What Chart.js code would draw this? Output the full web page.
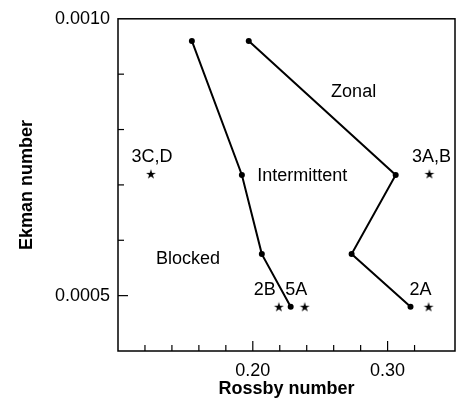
<!DOCTYPE html>
<html>
<head>
<meta charset="utf-8">
<script src="https://cdn.jsdelivr.net/npm/chart.js@4.4.1/dist/chart.umd.min.js"></script>
<style>
  html, body { margin: 0; padding: 0; background: #fff; }
  #wrap { width: 464px; height: 400px; }
</style>
</head>
<body>
<div id="wrap"><canvas id="myChart" width="464" height="400"></canvas></div>
<script>
// transition curves (Rossby, Ekman)
const leftCurveX = [0.1548, 0.1919, 0.2067, 0.2281];
const leftCurveY = [0.00096, 0.000718, 0.000575, 0.00048];
const rightCurveX = [0.197, 0.306, 0.2733, 0.317];
const rightCurveY = [0.00096, 0.000718, 0.000575, 0.00048];

// experiment runs shown as stars
const starX = [0.1244, 0.331, 0.2193, 0.2385, 0.3304];
const starY = [0.00072, 0.00072, 0.00048, 0.00048, 0.00048];

// text labels placed in data units
const labelText = ["3C,D", "3A,B", "2B", "5A", "2A", "Zonal", "Intermittent", "Blocked"];
const labelX = [0.1252, 0.3326, 0.2089, 0.2322, 0.3244, 0.2748, 0.2367, 0.1519];
const labelY = [0.00075, 0.00075, 0.00051, 0.00051, 0.00051, 0.000868, 0.000716, 0.000566];

const xLabeled = [0.2, 0.3];
const yLabeled = [0.0005, 0.001];

const FONT = "'Liberation Sans', Arial, Helvetica, sans-serif";

function toPoints(xs, ys) {
  return xs.map((x, i) => ({ x: x, y: ys[i] }));
}

function isLabeled(v, list) {
  return list.some((l) => Math.abs(v - l) < 1e-9);
}

// small filled five-point star used as point style
function makeStar() {
  const c = document.createElement("canvas");
  c.width = 12;
  c.height = 12;
  const g = c.getContext("2d");
  g.fillStyle = "#000";
  g.beginPath();
  for (let i = 0; i < 10; i++) {
    const r = i % 2 === 0 ? 5.2 : 1.9;
    const a = -Math.PI / 2 + (i * Math.PI) / 5;
    const px = 6 + r * Math.cos(a);
    const py = 6.5 + r * Math.sin(a);
    if (i === 0) g.moveTo(px, py);
    else g.lineTo(px, py);
  }
  g.closePath();
  g.fill();
  return c;
}

// frame, inward tick marks and text annotations
const decorPlugin = {
  id: "decor",
  afterDraw(chart) {
    const ctx = chart.ctx;
    const area = chart.chartArea;
    const xs = chart.scales.x;
    const ys = chart.scales.y;
    ctx.save();
    ctx.strokeStyle = "#000";
    ctx.lineWidth = 1.5;
    ctx.strokeRect(area.left, area.top, area.right - area.left, area.bottom - area.top);

    ctx.lineWidth = 1.2;
    xs.ticks.forEach((t) => {
      if (t.value <= xs.min + 1e-9 || t.value >= xs.max - 1e-9) return;
      const px = xs.getPixelForValue(t.value);
      const len = isLabeled(t.value, xLabeled) ? 10 : 6;
      ctx.beginPath();
      ctx.moveTo(px, area.bottom);
      ctx.lineTo(px, area.bottom - len);
      ctx.stroke();
    });
    ys.ticks.forEach((t) => {
      if (t.value <= ys.min + 1e-9 || t.value >= ys.max - 1e-9) return;
      const py = ys.getPixelForValue(t.value);
      const len = isLabeled(t.value, yLabeled) ? 10 : 6;
      ctx.beginPath();
      ctx.moveTo(area.left, py);
      ctx.lineTo(area.left + len, py);
      ctx.stroke();
    });

    ctx.fillStyle = "#000";
    ctx.font = "18px " + FONT;
    ctx.textAlign = "center";
    ctx.textBaseline = "middle";
    labelText.forEach((txt, i) => {
      ctx.fillText(txt, xs.getPixelForValue(labelX[i]), ys.getPixelForValue(labelY[i]));
    });
    ctx.restore();
  },
};

const starImg = makeStar();

new Chart(document.getElementById("myChart"), {
  type: "scatter",
  data: {
    datasets: [
      {
        data: toPoints(leftCurveX, leftCurveY),
        showLine: true,
        borderColor: "#000",
        backgroundColor: "#000",
        borderWidth: 2,
        pointRadius: 3,
        pointBorderWidth: 0,
      },
      {
        data: toPoints(rightCurveX, rightCurveY),
        showLine: true,
        borderColor: "#000",
        backgroundColor: "#000",
        borderWidth: 2,
        pointRadius: 3,
        pointBorderWidth: 0,
      },
      {
        data: toPoints(starX, starY),
        showLine: false,
        pointStyle: starImg,
        pointRadius: 6,
      },
    ],
  },
  options: {
    responsive: false,
    animation: false,
    layout: { padding: { top: 15, right: 7, left: 0, bottom: 0 } },
    plugins: { legend: { display: false }, tooltip: { enabled: false } },
    scales: {
      x: {
        type: "linear",
        min: 0.1,
        max: 0.35,
        afterFit(scale) { scale.height = 49; },
        grid: { display: false, drawTicks: false },
        border: { display: false },
        ticks: {
          stepSize: 0.02,
          autoSkip: false,
          maxRotation: 0,
          padding: 9,
          color: "#000",
          font: { family: FONT, size: 18 },
          callback: (v) => (isLabeled(v, xLabeled) ? v.toFixed(2) : ""),
        },
        title: {
          display: true,
          text: "Rossby number",
          color: "#000",
          font: { family: FONT, size: 18, weight: "bold" },
          padding: { top: 3, bottom: 0 },
        },
      },
      y: {
        type: "linear",
        min: 0.0004,
        max: 0.001,
        afterFit(scale) { scale.width = 118; },
        grid: { display: false, drawTicks: false },
        border: { display: false },
        ticks: {
          stepSize: 0.0001,
          autoSkip: false,
          padding: 8,
          color: "#000",
          font: { family: FONT, size: 18 },
          callback: (v) => (isLabeled(v, yLabeled) ? v.toFixed(4) : ""),
        },
        title: {
          display: true,
          text: "Ekman number",
          color: "#000",
          font: { family: FONT, size: 18, weight: "bold" },
          padding: { top: 16, bottom: 0 },
        },
      },
    },
  },
  plugins: [decorPlugin],
});
</script>
</body>
</html>
